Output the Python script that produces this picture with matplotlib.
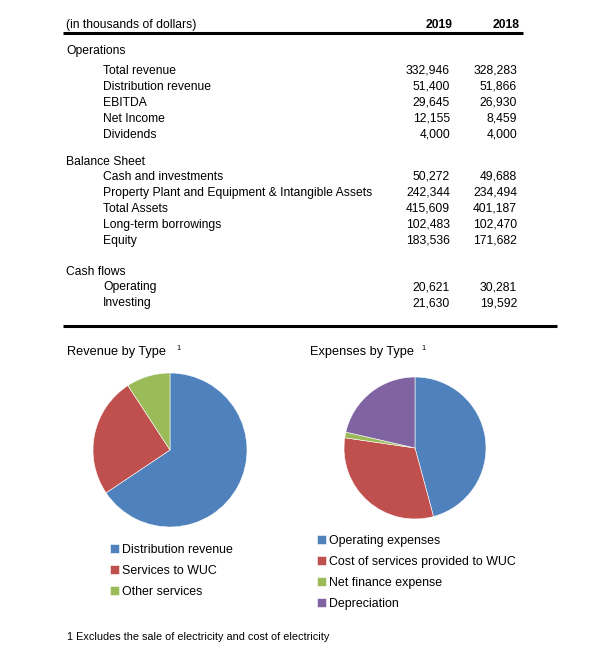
import matplotlib
matplotlib.use('Agg')
import matplotlib.pyplot as plt

plt.rcParams['font.family'] = ['Liberation Sans', 'DejaVu Sans']

# Table data (in thousands of dollars)
years = ['2019', '2018']
sections = ['Operations', 'Balance Sheet', 'Cash flows']
ops_labels = ['Total revenue', 'Distribution revenue', 'EBITDA', 'Net Income', 'Dividends']
ops_2019 = ['332,946', '51,400', '29,645', '12,155', '4,000']
ops_2018 = ['328,283', '51,866', '26,930', '8,459', '4,000']
bs_labels = ['Cash and investments', 'Property Plant and Equipment & Intangible Assets',
             'Total Assets', 'Long-term borrowings', 'Equity']
bs_2019 = ['50,272', '242,344', '415,609', '102,483', '183,536']
bs_2018 = ['49,688', '234,494', '401,187', '102,470', '171,682']
cf_labels = ['Operating', 'Investing']
cf_2019 = ['20,621', '21,630']
cf_2018 = ['30,281', '19,592']

# Pie data (estimated shares, %)
rev_labels = ['Distribution revenue', 'Services to WUC', 'Other services']
rev_values = [65.6, 25.2, 9.2]
exp_labels = ['Operating expenses', 'Cost of services provided to WUC',
              'Net finance expense', 'Depreciation']
exp_values = [45.8, 31.5, 1.3, 21.4]

colors = ['#4F81BD', '#C0504D', '#9BBB59', '#8064A2']

W, H = 613, 654
fig = plt.figure(figsize=(W / 100, H / 100), dpi=100)
fig.patch.set_facecolor('white')

ax = fig.add_axes([0, 0, 1, 1])
ax.set_xlim(0, W)
ax.set_ylim(H, 0)
ax.axis('off')

fs = 8.7
x_sec, x_item, x_c1, x_c2 = 66, 103, 450, 517

# header
ax.text(x_sec, 25, '(in thousands of dollars)', fontsize=fs, va='center')
ax.text(453, 25, years[0], fontsize=fs, fontweight='bold', va='center', ha='right')
ax.text(520, 25, years[1], fontsize=fs, fontweight='bold', va='center', ha='right')
ax.plot([63, 523], [33, 33], color='black', lw=2.2, solid_capstyle='butt')

blocks = [
    (sections[0], 51, ops_labels, ops_2019, ops_2018, 70.7),
    (sections[1], 161.7, bs_labels, bs_2019, bs_2018, 176.7),
    (sections[2], 271.7, cf_labels, cf_2019, cf_2018, 287.3),
]
step = 16
for title, ty, labels, v19, v18, y0 in blocks:
    ax.text(x_sec, ty, title, fontsize=fs, va='center')
    for i, (lab, a, b) in enumerate(zip(labels, v19, v18)):
        y = y0 + i * step
        ax.text(x_item, y, lab, fontsize=fs, va='center')
        ax.text(x_c1, y, a, fontsize=fs, va='center', ha='right')
        ax.text(x_c2, y, b, fontsize=fs, va='center', ha='right')

ax.plot([63, 557], [326, 326], color='black', lw=2.2, solid_capstyle='butt')

# pie titles
ax.text(67, 352, 'Revenue by Type', fontsize=9.2, va='center')
ax.text(176, 348, '1', fontsize=5.5, va='center')
ax.text(310, 352, 'Expenses by Type', fontsize=9.2, va='center')
ax.text(421, 348, '1', fontsize=5.5, va='center')

# footnote
ax.text(67, 637, '1 Excludes the sale of electricity and cost of electricity',
        fontsize=7.8, va='center')


def pie_axes(cx, cy, r):
    return fig.add_axes([(cx - r) / W, 1 - (cy + r) / H, 2 * r / W, 2 * r / H])


ax_rev = pie_axes(170, 450, 77)
w_rev, _ = ax_rev.pie(rev_values, colors=colors[:3], startangle=90, counterclock=False,
                      wedgeprops=dict(edgecolor='white', linewidth=0.4))
ax_rev.set_xlim(-1, 1)
ax_rev.set_ylim(-1, 1)

ax_exp = pie_axes(415, 448, 71)
w_exp, _ = ax_exp.pie(exp_values, colors=colors, startangle=90, counterclock=False,
                      wedgeprops=dict(edgecolor='white', linewidth=0.4))
ax_exp.set_xlim(-1, 1)
ax_exp.set_ylim(-1, 1)

leg_kw = dict(frameon=False, fontsize=8.9, handlelength=0.7, handleheight=0.7,
              handletextpad=0.25, labelspacing=0.72, borderpad=0, borderaxespad=0,
              loc='upper left', bbox_transform=fig.transFigure)
fig.legend(w_rev, rev_labels, bbox_to_anchor=(110 / W, 1 - 544 / H), **leg_kw)
fig.legend(w_exp, exp_labels, bbox_to_anchor=(317 / W, 1 - 535 / H), **leg_kw)

fig.savefig('out.png', dpi=100, facecolor='white')
